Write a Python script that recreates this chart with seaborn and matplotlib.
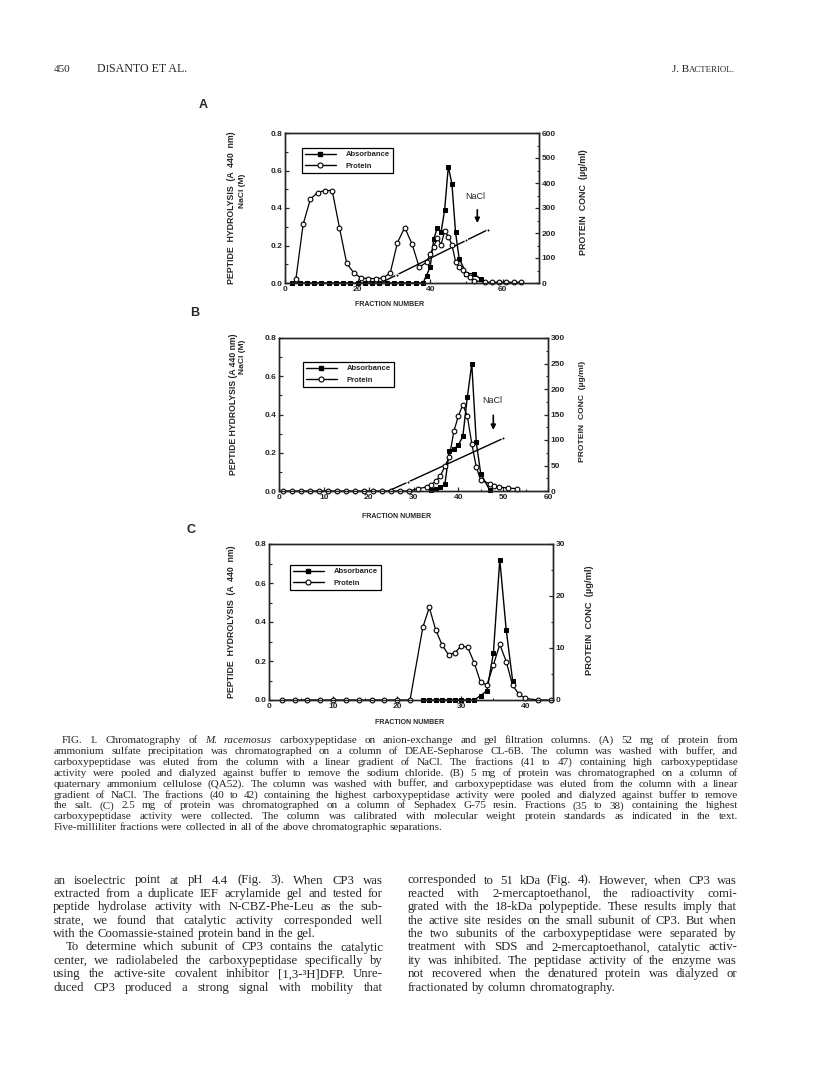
import numpy as np
import pandas as pd
import seaborn as sns
import matplotlib.pyplot as plt
from matplotlib.lines import Line2D
from matplotlib.ticker import MultipleLocator

# ---- panel A : DEAE-Sepharose CL-6B ----
a_abs_frac = [2, 4, 6, 8, 10, 12, 14, 16, 18, 20, 22, 24, 26, 28, 30, 32, 34, 36, 38,
              39, 40, 41, 42, 43, 44, 45, 46, 47, 48, 50, 52, 54]
a_abs = [0.0, 0.0, 0.0, 0.0, 0.0, 0.0, 0.0, 0.0, 0.0, 0.0,
         0.0, 0.0, 0.0, 0.0, 0.0, 0.0, 0.0, 0.0, 0.0,
         0.04, 0.085, 0.235, 0.295, 0.27, 0.39, 0.62, 0.53, 0.27, 0.13,
         0.05, 0.05, 0.02]
a_prot_frac = [3, 5, 7, 9, 11, 13, 15, 17, 19, 21, 23, 25, 27, 29, 31, 33, 35, 37, 39,
               40, 41, 42, 43, 44, 45, 46, 47, 48, 49, 50, 51, 52, 55, 57, 59, 61, 63, 65]
a_prot = [15, 235, 336, 362, 370, 370, 222, 79, 40, 20, 18, 18, 20, 40, 162, 222, 156, 63, 83,
          116, 145, 182, 153, 208, 186, 153, 86, 63, 54, 37, 24, 10, 3, 3, 3, 3, 3, 3]
a_nacl_frac = [26.3, 31, 50, 56]
a_nacl = [0.0, 0.045, 0.228, 0.285]

# ---- panel B : QA52 ----
b_abs_frac = [34, 35, 36, 37, 38, 39, 40, 41, 42, 43, 44, 45, 47]
b_abs = [0.005, 0.01, 0.02, 0.035, 0.21, 0.22, 0.24, 0.285, 0.49, 0.665, 0.255, 0.09, 0.005]
b_prot_frac = [1, 3, 5, 7, 9, 11, 13, 15, 17, 19, 21, 23, 25, 27, 29, 31, 33, 34, 35, 36,
               37, 38, 39, 40, 41, 42, 43, 44, 45, 47, 48, 49, 51, 53]
b_prot = [0, 0, 0, 0, 0, 0, 0, 0, 0, 0, 0, 0, 0, 0, 0, 4.6, 7.9, 12.5, 19.7, 29.5,
          48.6, 67, 117, 147, 169, 147, 93, 47, 21, 14.4, 9.8, 7.9, 5.9, 4.6]
b_nacl_frac = [24.4, 28.7, 50]
b_nacl = [0.0, 0.046, 0.275]

# ---- panel C : Sephadex G-75 ----
c_abs_frac = [24, 25, 26, 27, 28, 29, 30, 31, 32, 33, 34, 35, 36, 37, 38]
c_abs = [0.0, 0.0, 0.0, 0.0, 0.0, 0.0, 0.0, 0.0, 0.0, 0.022, 0.048, 0.24, 0.72, 0.36, 0.10]
c_prot_frac = [2, 4, 6, 8, 10, 12, 14, 16, 18, 20, 22, 24, 25, 26, 27, 28, 29, 30, 31,
               32, 33, 34, 35, 36, 37, 38, 39, 40, 42, 44]
c_prot = [0, 0, 0, 0, 0, 0, 0, 0, 0, 0, 0, 14.0, 17.8, 13.5, 10.6, 8.7, 9.1, 10.4, 10.1,
          7.2, 3.4, 2.9, 6.7, 10.7, 7.4, 2.8, 1.1, 0.3, 0, 0]

caption = [
    "FIG. 1. Chromatography of *M.* *racemosus* carboxypeptidase on anion-exchange and gel filtration columns. (A) 52 mg of protein from",
    "ammonium sulfate precipitation was chromatographed on a column of DEAE-Sepharose CL-6B. The column was washed with buffer, and",
    "carboxypeptidase was eluted from the column with a linear gradient of NaCl. The fractions (41 to 47) containing high carboxypeptidase",
    "activity were pooled and dialyzed against buffer to remove the sodium chloride. (B) 5 mg of protein was chromatographed on a column of",
    "quaternary ammonium cellulose (QA52). The column was washed with buffer, and carboxypeptidase was eluted from the column with a linear",
    "gradient of NaCl. The fractions (40 to 42) containing the highest carboxypeptidase activity were pooled and dialyzed against buffer to remove",
    "the salt. (C) 2.5 mg of protein was chromatographed on a column of Sephadex G-75 resin. Fractions (35 to 38) containing the highest",
    "carboxypeptidase activity were collected. The column was calibrated with molecular weight protein standards as indicated in the text.",
    "Five-milliliter fractions were collected in all of the above chromatographic separations.",
]
left_col = [
    "an isoelectric point at pH 4.4 (Fig. 3). When CP3 was",
    "extracted from a duplicate IEF acrylamide gel and tested for",
    "peptide hydrolase activity with N-CBZ-Phe-Leu as the sub-",
    "strate, we found that catalytic activity corresponded well",
    "with the Coomassie-stained protein band in the gel.",
    "To determine which subunit of CP3 contains the catalytic",
    "center, we radiolabeled the carboxypeptidase specifically by",
    "using the active-site covalent inhibitor [1,3-\u00b3H]DFP. Unre-",
    "duced CP3 produced a strong signal with mobility that",
]
right_col = [
    "corresponded to 51 kDa (Fig. 4). However, when CP3 was",
    "reacted with 2-mercaptoethanol, the radioactivity comi-",
    "grated with the 18-kDa polypeptide. These results imply that",
    "the active site resides on the small subunit of CP3. But when",
    "the two subunits of the carboxypeptidase were separated by",
    "treatment with SDS and 2-mercaptoethanol, catalytic activ-",
    "ity was inhibited. The peptidase activity of the enzyme was",
    "not recovered when the denatured protein was dialyzed or",
    "fractionated by column chromatography.",
]

sns.set_style("ticks")
plt.rcParams['font.family'] = ['Liberation Sans', 'DejaVu Sans']

W, H = 816, 1069
fig = plt.figure(figsize=(W / 100, H / 100), dpi=100)
rend = fig.canvas.get_renderer()
SERIF = ['Liberation Serif', 'DejaVu Serif']


def put(x, y, s, **kw):
    return fig.text(x / W, 1 - y / H, s, **kw)


def justify(x0, x1, y, line, size, fill=True):
    ts = []
    for w in line.split(' '):
        st = 'italic' if w.startswith('*') else 'normal'
        ts.append(put(0, y, w.strip('*'), fontsize=size, family=SERIF, style=st, va='baseline'))
    ws = [t.get_window_extent(rend).width for t in ts]
    gap = size * 100 / 72 * 0.25
    if fill and len(ts) > 1:
        gap = (x1 - x0 - sum(ws)) / (len(ts) - 1)
    x = x0
    for t, w in zip(ts, ws):
        t.set_x(x / W)
        x += w + gap


def pieces(x, y, parts):
    # small caps: list of (text, size) placed one after the other
    for s, size in parts:
        t = put(x, y, s, fontsize=size, family=SERIF, va='baseline')
        x += t.get_window_extent(rend).width
    return x


def panel(box, abs_x, abs_y, prot_x, prot_y, xmax, xstep, ymax2, leg_at, nacl=None):
    l, t, r, b = box
    ax = fig.add_axes([l / W, 1 - b / H, (r - l) / W, (b - t) / H])
    ax2 = ax.twinx()
    sns.lineplot(x=abs_x, y=abs_y, ax=ax, color='black', lw=1, marker='s', markersize=3,
                 markeredgecolor='black', estimator=None, sort=False, clip_on=False, zorder=3)
    if nacl is not None:
        sns.lineplot(x=nacl[0], y=nacl[1], ax=ax, color='black', lw=1, marker='D', markersize=2,
                     markevery=list(range(1, len(nacl[0]))), estimator=None, sort=False)
    sns.lineplot(x=prot_x, y=prot_y, ax=ax2, color='black', lw=0.9, marker='o', markersize=3.4,
                 markerfacecolor='white', markeredgecolor='black', markeredgewidth=0.8,
                 estimator=None, sort=False, clip_on=False)
    ax.set_xlim(0, xmax)
    ax.set_ylim(0, 0.8)
    ax2.set_ylim(0, ymax2)
    ax.xaxis.set_major_locator(MultipleLocator(xstep))
    ax.xaxis.set_minor_locator(MultipleLocator(xstep / 2))
    ax.yaxis.set_major_locator(MultipleLocator(0.2))
    ax.yaxis.set_minor_locator(MultipleLocator(0.1))
    ax.yaxis.set_major_formatter(lambda v, p: f"{v:.1f}")
    ax2.yaxis.set_major_locator(MultipleLocator(ymax2 / 6 if ymax2 > 100 else ymax2 / 3))
    ax2.yaxis.set_minor_locator(MultipleLocator(ymax2 / 12 if ymax2 > 100 else ymax2 / 6))
    for a in (ax, ax2):
        a.tick_params(which='major', direction='in', length=3, width=0.9, labelsize=6, pad=2)
        a.tick_params(which='minor', direction='in', length=1.8, width=0.8)
        for s in a.spines.values():
            s.set_linewidth(1)
            s.set_visible(True)
        for lab in a.get_xticklabels() + a.get_yticklabels():
            lab.set_fontweight('bold')
    ax.tick_params(axis='y', right=False)
    ax2.tick_params(axis='x', top=False, bottom=False)
    ax.set_xlabel('')
    ax.set_ylabel('')
    ax2.set_ylabel('')
    handles = [Line2D([], [], color='black', lw=1, marker='s', ms=3.5, label='Absorbance'),
               Line2D([], [], color='black', lw=1, marker='o', ms=3.6, mfc='white', mew=0.8,
                      label='Protein')]
    leg = ax2.legend(handles=handles, loc='upper left', bbox_to_anchor=leg_at, frameon=True,
                     fancybox=False, edgecolor='black', framealpha=1, handlelength=4,
                     handletextpad=1.3, labelspacing=0.5, borderpad=0.4, borderaxespad=0,
                     prop={'size': 5.5, 'weight': 'bold'})
    leg.get_frame().set_linewidth(0.9)
    return ax, ax2


def lab(size):
    return dict(fontsize=size, fontweight='bold', ha='center', va='center')


# A
ax, ax2 = panel((285, 133, 539, 283), a_abs_frac, a_abs, a_prot_frac, a_prot, 70, 20, 600,
                (0.067, 0.90), (a_nacl_frac, a_nacl))
ax.annotate('', xy=(53, 0.305), xytext=(53, 0.405),
            arrowprops=dict(arrowstyle='-|>', color='black', lw=1.2, mutation_scale=7))
ax.text(52.5, 0.46, 'NaCl', fontsize=6.5, ha='center', va='center')
put(203, 105, 'A', fontsize=9, fontweight='bold', ha='center', va='center')
put(232, 208, 'PEPTIDE  HYDROLYSIS  (A  440  nm)', rotation=90, **lab(6.3))
put(243, 191, 'NaCl (M)', rotation=90, **lab(6))
put(583, 202, 'PROTEIN  CONC  (\u00b5g/ml)', rotation=90, **lab(6.4))
put(390, 305, 'FRACTION NUMBER', **lab(5))

# B
ax, ax2 = panel((279, 338, 548, 491), b_abs_frac, b_abs, b_prot_frac, b_prot, 60, 10, 300,
                (0.089, 0.843), (b_nacl_frac, b_nacl))
ax.annotate('', xy=(47.8, 0.305), xytext=(47.8, 0.41),
            arrowprops=dict(arrowstyle='-|>', color='black', lw=1.2, mutation_scale=7))
ax.text(47.5, 0.475, 'NaCl', fontsize=6.5, ha='center', va='center')
put(195, 313, 'B', fontsize=9, fontweight='bold', ha='center', va='center')
put(233, 404, 'PEPTIDE HYDROLYSIS (A 440 nm)', rotation=90, **lab(6.2))
put(243, 357, 'NaCl (M)', rotation=90, **lab(6))
put(583, 411, 'PROTEIN  CONC  (\u00b5g/ml)', rotation=90, **lab(6.1))
put(397, 517, 'FRACTION NUMBER', **lab(5))

# C
ax, ax2 = panel((269, 544, 553, 700), c_abs_frac, c_abs, c_prot_frac, c_prot, 44.3, 10, 30,
                (0.074, 0.865))
put(191, 530, 'C', fontsize=9, fontweight='bold', ha='center', va='center')
put(232, 622, 'PEPTIDE  HYDROLYSIS  (A  440  nm)', rotation=90, **lab(6.3))
put(590, 620, 'PROTEIN  CONC  (\u00b5g/ml)', rotation=90, **lab(6.7))
put(410, 723, 'FRACTION NUMBER', **lab(5))

# page header (small caps built from two sizes)
put(54, 72, '450', fontsize=8, family=SERIF, va='baseline')
pieces(97, 72, [('D', 8.6), ('I', 6.9), ('SANTO ET AL.', 8.6)])
pieces(672, 72, [('J. B', 8), ('ACTERIOL.', 6.4)])

# caption
cap_y = [740, 750.9, 761.8, 772.7, 783.6, 794.5, 805.4, 816.3, 827.2]
for i, (ln, y) in enumerate(zip(caption, cap_y)):
    justify(62 if i == 0 else 54, 738, y + 3, ln, 8, fill=i < len(caption) - 1)

# body text, two columns
body_y = [880, 893.4, 906.8, 920.2, 933.6, 947.0, 960.4, 973.8, 987.2]
for i, (ln, y) in enumerate(zip(left_col, body_y)):
    justify(66 if i == 5 else 53, 383, y + 3.5, ln, 9.2, fill=i != 4)
for i, (ln, y) in enumerate(zip(right_col, body_y)):
    justify(408, 737, y + 3.5, ln, 9.2, fill=i != 8)

fig.savefig('out.png', dpi=100)
